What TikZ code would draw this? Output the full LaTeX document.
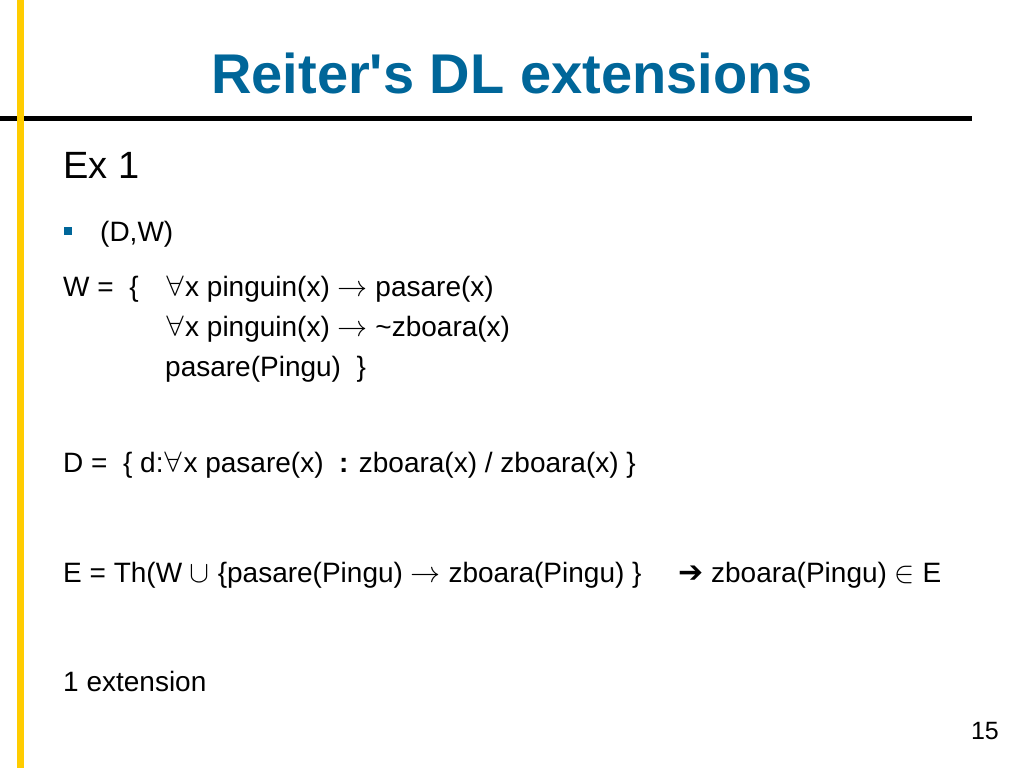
\documentclass[tikz,border=0pt]{standalone}
\usepackage{fontspec}
\usepackage{unicode-math}
\setmainfont{Liberation Sans}
\newfontfamily\arrowfont{DejaVu Sans}
\newcommand{\sym}[1]{{\fontsize{30}{32}\selectfont$#1$}}
\definecolor{titleblue}{RGB}{0,102,153}
\definecolor{baryellow}{RGB}{255,204,0}
\tikzset{
    line/.style={anchor=base west, inner sep=0pt, font=\fontsize{28}{32}\selectfont},
    heading/.style={anchor=base, inner sep=0pt, text=titleblue, font=\fontsize{56}{60}\selectfont\bfseries}}

\begin{document}
\begin{tikzpicture}[x=1pt,y=-1pt]

    \useasboundingbox[fill=white] (0,0) rectangle (1024,768);

    \draw[line width=4.5pt] (0,118.5) -- (972,118.5);
    \fill[baryellow] (16.5,0) rectangle (24,768);

    \node[heading] (title) at (512,93) {Reiter\textquotesingle s DL extensions};
    \node[line, font=\fontsize{38}{42}\selectfont] (ex) at (63,178) {Ex 1};

    \fill[titleblue] (64,227) rectangle (72,235);
    \node[line] (dw) at (100,241) {(D,W)};

    \node[line] (wset) at (63,296) {W =\ \ \{};
    \node[line] (w1) at (165,296) {\sym{\forall}x pinguin(x) \sym{\rightarrow} pasare(x)};
    \node[line] (w2) at (165,336) {\sym{\forall}x pinguin(x) \sym{\rightarrow} \textasciitilde zboara(x)};
    \node[line] (w3) at (165,376) {pasare(Pingu)\ \ \}};

    \node[line] (dset) at (63,472) {D =\ \ \{ d:\sym{\forall}x pasare(x)\ \ \textbf{:} zboara(x) / zboara(x) \}};

    \node[line] (eset) at (63,582) {E = Th(W \sym{\cup} \{pasare(Pingu) \sym{\rightarrow} zboara(Pingu) \}};
    \node[line] (result) at (678,582) {{\arrowfont\bfseries\fontsize{30}{32}\selectfont ➔} zboara(Pingu) \sym{\in} E};

    \node[line] (count) at (63,691) {1 extension};
    \node[line, anchor=base east, font=\fontsize{25}{30}\selectfont] (page) at (999,739) {15};

\end{tikzpicture}
\end{document}
